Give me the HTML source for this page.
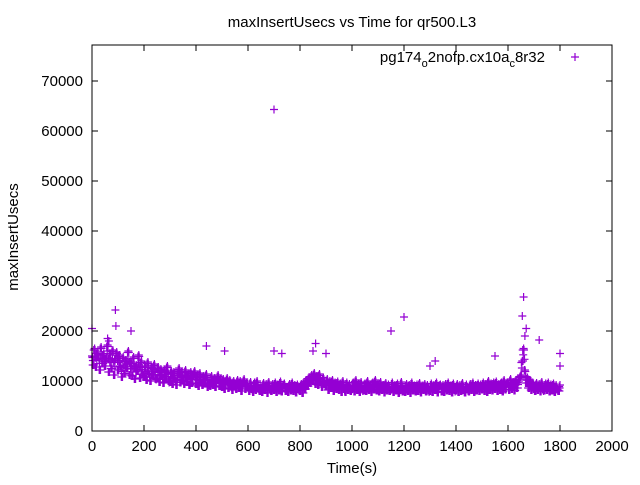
<!DOCTYPE html>
<html><head><meta charset="utf-8"><style>
body{margin:0;background:#fff}
svg text{font-family:"Liberation Sans",sans-serif;fill:#000}
</style></head><body>
<svg id="chart" width="640" height="480" viewBox="0 0 640 480" xmlns="http://www.w3.org/2000/svg">
<rect width="640" height="480" fill="#fff"/>
<text x="352" y="27" font-size="15" text-anchor="middle">maxInsertUsecs vs Time for qr500.L3</text>
<text transform="translate(18,237) rotate(-90)" font-size="15" text-anchor="middle">maxInsertUsecs</text>
<text x="352" y="473" font-size="15" text-anchor="middle">Time(s)</text>
<g id="axes"></g>
<g id="marks"></g>
<g>
<text x="545" y="62" font-size="15" text-anchor="end">pg174<tspan font-size="11" dy="5">o</tspan><tspan dy="-5">2nofp.cx10a</tspan><tspan font-size="11" dy="5">c</tspan><tspan dy="-5">8r32</tspan></text>
<path d="M571,57h8M575,53v8" stroke="#9400d3" stroke-width="1.2"/>
</g>
<rect x="92" y="45" width="520" height="386" fill="none" stroke="#000" stroke-width="1"/>
</svg>
<script>
const xTicks=[0,200,400,600,800,1000,1200,1400,1600,1800,2000];
const yTicks=[0,10000,20000,30000,40000,50000,60000,70000];
const baseValues=[150,132,165,128,158,148,122,168,135,155,
130,148,172,118,155,125,162,112,145,158,
122,152,130,108,148,115,142,125,160,112,
138,110,148,104,132,120,152,106,140,114,
108,130,102,138,115,100,128,112,134,104,
106,128,98,124,110,96,122,104,130,100,
98,120,94,118,104,92,115,126,97,117,
102,94,122,98,114,92,118,96,112,120,
94,112,90,116,100,92,110,95,114,88,
96,90,110,92,106,88,102,112,90,104,
88,104,84,100,106,86,102,90,82,100,
90,84,102,86,100,80,96,104,84,95,
88,80,98,84,78,97,82,100,86,80,
86,78,96,82,94,76,98,84,80,94,
82,97,78,93,81,99,79,92,95,80,
85,78,94,81,97,80,92,77,93,84,
80,94,76,98,84,102,90,108,96,112,
100,116,94,110,92,114,98,88,107,94,
90,104,82,100,86,102,80,97,84,99,
82,95,78,100,84,78,97,82,94,80,
84,97,79,102,82,94,78,98,83,81,
95,80,100,82,93,78,97,83,102,81,
94,79,98,82,92,77,96,81,93,80,
83,97,78,92,81,95,76,82,98,79,
82,78,94,80,92,76,97,81,91,79,
93,80,96,77,91,82,94,79,92,81,
80,95,78,92,82,97,77,91,93,79,
92,78,94,81,97,80,91,77,95,82,
81,94,78,92,80,96,82,77,93,83,
79,94,82,97,78,92,81,95,80,93,
83,97,80,94,78,100,82,95,81,97,
84,99,80,94,82,97,79,102,83,95,
97,82,104,84,98,81,102,86,100,107,
112,140,165,122,96,107,86,102,82,97,
84,80,96,82,94,79,98,83,81,95,
82,97,79,93,81,95,78,92,83,80,
92];
const outlierTimes=[700,90,92,150,0,860,1150,1200,1660,1655,1670,1665,1720,1800,1800,1550,1320,1300,700,730,510,440,60,65,900,850];
const outlierValues=[64300,24200,21000,20000,20500,17500,20000,22800,26800,23000,20500,19000,18200,15500,13000,15000,14000,13000,16000,15500,16000,17000,18500,18000,15500,16000];
const X0=92,X1=612,Y0=431,Y1=45,XMAX=2000,YMAX=77200;
const sx=v=>X0+(X1-X0)*v/XMAX;
const sy=v=>Y0-(Y0-Y1)*v/YMAX;
const NS="http://www.w3.org/2000/svg";
const axes=document.getElementById('axes'),marks=document.getElementById('marks');
xTicks.forEach(t=>{
 const p=document.createElementNS(NS,'path');
 p.setAttribute('d',`M${sx(t)},${Y0}v-6M${sx(t)},${Y1}v6`);p.setAttribute('stroke','#000');
 
 
 axes.appendChild(p);
 const tx=document.createElementNS(NS,'text');
 tx.setAttribute('x',sx(t));tx.setAttribute('y',Y0+20);tx.setAttribute('font-size','15');tx.setAttribute('text-anchor','middle');
 tx.textContent=t;
 
 
 axes.appendChild(tx);
});
yTicks.forEach(t=>{
 const p=document.createElementNS(NS,'path');
 p.setAttribute('d',`M${X0},${sy(t)}h6M${X1},${sy(t)}h-6`);p.setAttribute('stroke','#000');
 
 
 axes.appendChild(p);
 const tx=document.createElementNS(NS,'text');
 tx.setAttribute('x',X0-9);tx.setAttribute('y',sy(t)+5);tx.setAttribute('font-size','15');tx.setAttribute('text-anchor','end');
 tx.textContent=t;
 
 
 axes.appendChild(tx);
});
let d='';
function plus(t,v){const x=sx(t),y=sy(v);d+=`M${(x-4).toFixed(1)},${y.toFixed(1)}h8M${x.toFixed(1)},${(y-4).toFixed(1)}v8`;}
baseValues.forEach((v,i)=>{plus(i*5,v*100);});
baseValues.forEach((v,i)=>{if(i<baseValues.length-1){const w=baseValues[i+1];plus(i*5+2.5,Math.min(v,w)*100);plus(i*5+1.5,Math.max(v,w)*100-300);plus(i*5+3.5,(v+w)*50);}});
outlierTimes.forEach((t,i)=>plus(t,outlierValues[i]));
const path=document.createElementNS(NS,'path');
path.setAttribute('d',d);path.setAttribute('stroke','#9400d3');path.setAttribute('stroke-width','1.2');path.setAttribute('fill','none');


marks.appendChild(path);
</script>
</body></html>
